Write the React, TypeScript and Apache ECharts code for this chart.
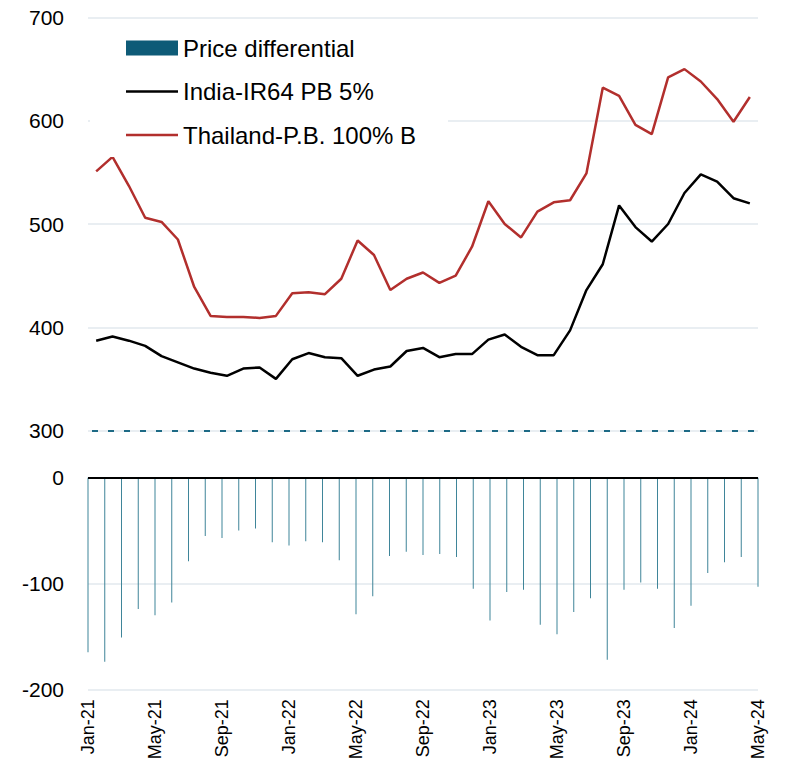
import React, { useEffect, useRef } from 'react';
import * as echarts from 'echarts';

const categories = [
  'Jan-21', 'Feb-21', 'Mar-21', 'Apr-21', 'May-21', 'Jun-21', 'Jul-21', 'Aug-21', 'Sep-21', 'Oct-21', 'Nov-21', 'Dec-21',
  'Jan-22', 'Feb-22', 'Mar-22', 'Apr-22', 'May-22', 'Jun-22', 'Jul-22', 'Aug-22', 'Sep-22', 'Oct-22', 'Nov-22', 'Dec-22',
  'Jan-23', 'Feb-23', 'Mar-23', 'Apr-23', 'May-23', 'Jun-23', 'Jul-23', 'Aug-23', 'Sep-23', 'Oct-23', 'Nov-23', 'Dec-23',
  'Jan-24', 'Feb-24', 'Mar-24', 'Apr-24', 'May-24',
];

const thailand = [
  551, 565, 537, 506, 502, 485, 439, 411, 410, 410, 409, 411,
  433, 434, 432, 447, 484, 470, 436, 447, 453, 443, 450, 478,
  522, 500, 487, 512, 521, 523, 549, 632, 624, 596, 587, 642,
  650, 638, 621, 599, 623,
];

const india = [
  387, 391, 387, 382, 372, 366, 360, 356, 353, 360, 361, 350,
  369, 375, 371, 370, 353, 359, 362, 377, 380, 371, 374, 374,
  388, 393, 381, 373, 373, 397, 436, 461, 518, 497, 483, 500,
  530, 548, 541, 525, 520,
];

const differential = [
  -165, -174, -151, -124, -130, -118, -79, -55, -57, -50, -48, -61,
  -64, -60, -61, -78, -129, -112, -74, -70, -73, -72, -75, -105,
  -135, -108, -106, -139, -148, -127, -114, -172, -106, -99, -105, -142,
  -121, -90, -80, -75, -103,
];

const topTicks = { min: 300, max: 700, interval: 100 };
const bottomTicks = { min: -200, max: 0, interval: 100 };

const gridColor = '#e2e9ee';
const lineIcon = 'path://M0,0H52V2.6H0Z';

export default function App() {
  const ref = useRef<HTMLDivElement>(null);

  useEffect(() => {
    if (!ref.current) return;
    const chart = echarts.init(ref.current, null, { renderer: 'svg' });
    const option = {
      animation: false,
      textStyle: { fontFamily: 'Liberation Sans' },
      legend: {
        orient: 'vertical',
        left: 90,
        top: 26,
        padding: [10, 32, 10, 36],
        backgroundColor: '#ffffff',
        itemWidth: 52,
        itemHeight: 15,
        itemGap: 19.5,
        z: 5,
        textStyle: { fontSize: 24, color: '#000', lineHeight: 24 },
        data: [
          { name: 'Price differential', icon: 'rect', itemStyle: { color: '#0e5b77' } },
          { name: 'India-IR64 PB 5%', icon: lineIcon, itemStyle: { color: '#000' } },
          { name: 'Thailand-P.B. 100% B', icon: lineIcon, itemStyle: { color: '#b22f2d' } },
        ],
      },
      grid: [
        { left: 88, right: 31, top: 17.5, height: 413 },
        { left: 88, right: 31, top: 477.7, height: 211.6 },
      ],
      xAxis: [
        { gridIndex: 0, type: 'category', data: categories, boundaryGap: true, show: false },
        {
          gridIndex: 1,
          type: 'category',
          data: categories,
          boundaryGap: false,
          axisLine: { show: false },
          axisTick: { show: false },
          splitLine: { show: false },
          axisLabel: { interval: 3, rotate: 90, fontSize: 18, color: '#000', margin: 10 },
        },
      ],
      yAxis: [
        {
          gridIndex: 0,
          type: 'value',
          ...topTicks,
          axisLine: { show: false },
          axisTick: { show: false },
          axisLabel: { fontSize: 21, color: '#000', margin: 24 },
          splitLine: { lineStyle: { color: gridColor, width: 1.5 } },
        },
        {
          gridIndex: 1,
          type: 'value',
          ...bottomTicks,
          axisLine: { show: false },
          axisTick: { show: false },
          axisLabel: { fontSize: 21, color: '#000', margin: 24 },
          splitLine: { lineStyle: { color: gridColor, width: 1.5 } },
        },
      ],
      series: [
        {
          name: 'Price differential',
          type: 'bar',
          xAxisIndex: 1,
          yAxisIndex: 1,
          data: differential,
          barWidth: 1,
          clip: false,
          itemStyle: { color: '#3f8599' },
          markLine: {
            silent: true,
            symbol: 'none',
            label: { show: false },
            lineStyle: { color: '#000', width: 2.2, type: 'solid' },
            data: [{ yAxis: 0 }],
          },
        },
        {
          name: 'India-IR64 PB 5%',
          type: 'line',
          xAxisIndex: 0,
          yAxisIndex: 0,
          data: india,
          symbol: 'none',
          showSymbol: false,
          lineStyle: { color: '#000', width: 2.5 },
          itemStyle: { color: '#000' },
        },
        {
          name: 'Thailand-P.B. 100% B',
          type: 'line',
          xAxisIndex: 0,
          yAxisIndex: 0,
          data: thailand,
          symbol: 'none',
          showSymbol: false,
          lineStyle: { color: '#b22f2d', width: 2.5 },
          itemStyle: { color: '#b22f2d' },
          markLine: {
            silent: true,
            symbol: 'none',
            label: { show: false },
            lineStyle: { color: '#1d6a85', width: 2, type: [6, 10], dashOffset: -4 },
            data: [{ yAxis: 300 }],
          },
        },
      ],
    };
    chart.setOption(option as any);
    return () => chart.dispose();
  }, []);

  return (
    <div
      ref={ref}
      style={{ position: 'fixed', left: 0, top: 0, width: 789, height: 763, background: '#fff' }}
    />
  );
}
